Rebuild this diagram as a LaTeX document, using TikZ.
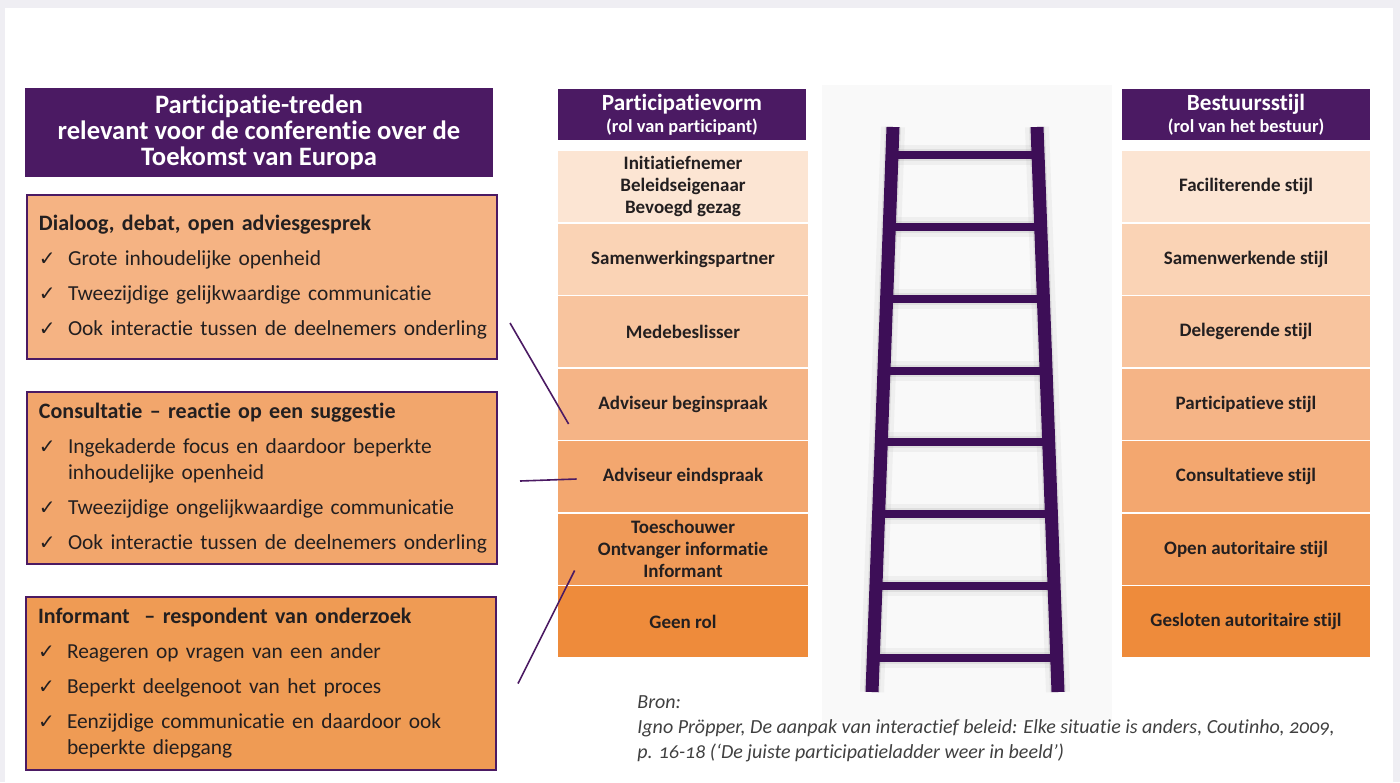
\documentclass[tikz,border=0pt]{standalone}
\usepackage{fontspec}
\setmainfont{Carlito}[Ligatures=NoCommon]
\newfontfamily\symfont{DejaVu Sans}
\usetikzlibrary{calc}

\definecolor{paars}{HTML}{4B1A63}
\definecolor{ladderpaars}{HTML}{3D0E57}
\definecolor{rand}{HTML}{EFEEF3}
\definecolor{inkt}{HTML}{231F20}
\definecolor{blok1}{HTML}{F5B383}
\definecolor{blok2}{HTML}{F2A66C}
\definecolor{blok3}{HTML}{EF9B54}
\definecolor{trede1}{HTML}{FCE5D3}
\definecolor{trede2}{HTML}{FAD3B5}
\definecolor{trede3}{HTML}{F8C49E}
\definecolor{trede4}{HTML}{F5B486}
\definecolor{trede5}{HTML}{F3A76F}
\definecolor{trede6}{HTML}{F09A58}
\definecolor{trede7}{HTML}{EE8B3B}

\newcommand\bloktekst{\fontsize{11}{13}\selectfont}

\tikzstyle{kop}=[fill=paars, text=white, font=\bfseries, align=center, inner sep=0pt]
\tikzstyle{blok}=[draw=paars, line width=1pt, text=inkt, anchor=north west, align=left,
  text width=223pt, inner xsep=6pt, inner ysep=0pt, font=\bloktekst]
\tikzstyle{trede}=[text=inkt, font=\bfseries\fontsize{9.5}{11}\selectfont, align=center,
  minimum height=35.5pt, inner sep=0pt]
\tikzstyle{lijn}=[draw=paars, line width=0.8pt]

% checked item and its continuation line
\newcommand\vink[1]{\par\vspace{4.5pt}\noindent
  \makebox[14.5pt][l]{\symfont\fontsize{10}{10}\selectfont ✓}%
  \mbox{\fontsize{10.7}{13}\selectfont #1}\par}
\newcommand\vinkverder[1]{\par\noindent\hspace*{14.5pt}\mbox{\fontsize{10.7}{13}\selectfont #1}\par}

\begin{document}
\begin{tikzpicture}[x=0.5pt, y=-0.5pt]
\useasboundingbox (0,0) rectangle (1400,782);
% Page
    \fill[rand] (0,0) rectangle (1400,782);
    \fill[white] (5,8) rectangle (1393,782);

% Left column
    \node[kop, minimum width=234pt, minimum height=44.5pt,
      font=\bfseries\fontsize{13.3}{13}\selectfont] (titel) at (259,132.5)
      {Participatie-treden\\relevant voor de conferentie over de\\Toekomst van Europa};
    \node[blok, fill=blok1, minimum height=82pt] (dialoog) at (26,194) {%
      \textbf{Dialoog, debat, open adviesgesprek}
      \vink{Grote inhoudelijke openheid}
      \vink{Tweezijdige gelijkwaardige communicatie}
      \vink{Ook interactie tussen de deelnemers onderling}};
    \node[blok, fill=blok2, minimum height=86pt] (consultatie) at (26,391) {%
      \textbf{Consultatie -- reactie op een suggestie}
      \vink{Ingekaderde focus en daardoor beperkte}
      \vinkverder{inhoudelijke openheid}
      \vink{Tweezijdige ongelijkwaardige communicatie}
      \vink{Ook interactie tussen de deelnemers onderling}};
    \node[blok, fill=blok3, minimum height=86.5pt] (informant) at (25,596) {%
      \textbf{Informant\ \ -- respondent van onderzoek}
      \vink{Reageren op vragen van een ander}
      \vink{Beperkt deelgenoot van het proces}
      \vink{Eenzijdige communicatie en daardoor ook}
      \vinkverder{beperkte diepgang}};

% Headers
    \node[kop, minimum width=124pt, minimum height=25.5pt] (kopvorm) at (682,114.5)
      {{\fontsize{11.6}{12}\selectfont Participatievorm}\\[-1pt]{\fontsize{9.2}{10}\selectfont (rol van participant)}};
    \node[kop, minimum width=124pt, minimum height=25.5pt] (kopstijl) at (1246,114.5)
      {{\fontsize{11.6}{12}\selectfont Bestuursstijl}\\[-1pt]{\fontsize{9.2}{10}\selectfont (rol van het bestuur)}};

% Steps
    \foreach \i/\vorm/\stijl in {
      1/{Initiatiefnemer\\Beleidseigenaar\\Bevoegd gezag}/Faciliterende stijl,
      2/Samenwerkingspartner/Samenwerkende stijl,
      3/Medebeslisser/Delegerende stijl,
      4/Adviseur beginspraak/Participatieve stijl,
      5/Adviseur eindspraak/Consultatieve stijl,
      6/{Toeschouwer\\Ontvanger informatie\\Informant}/Open autoritaire stijl,
      7/Geen rol/Gesloten autoritaire stijl} {
      \node[trede, fill=trede\i, minimum width=125pt] (vorm\i) at (683,{186.5+72.5*(\i-1)}) {\vorm};
      \node[trede, fill=trede\i, minimum width=124pt] (stijl\i) at (1246,{186.5+72.5*(\i-1)}) {\stijl};
    }

% Connectors
    \draw[lijn] ([xshift=6pt,yshift=-23pt]dialoog.east) -- ([xshift=5.5pt,yshift=-10pt]vorm4.west);
    \draw[lijn] ([xshift=11pt,yshift=-1.5pt]consultatie.east) -- ([xshift=9.5pt,yshift=-1.25pt]vorm5.west);
    \draw[lijn] ([xshift=10.5pt]informant.east) -- ([xshift=8.5pt,yshift=-10.75pt]vorm6.west);

% Ladder
    \fill[black!2.5] (822,85) rectangle (1112,722);
    \coordinate (lt) at (893,127);
    \coordinate (lb) at (872,692);
    \coordinate (rt) at (1037,127);
    \coordinate (rb) at (1058,692);
    \foreach \s/\o in {12/0.08, 8/0.14} {
      \begin{scope}[shift={(6,13)}, black!50, opacity=\o]
        \draw[line width=\s pt] (lt) -- (lb);
        \draw[line width=\s pt] (rt) -- (rb);
        \foreach \k in {0,...,7}
          \draw[line width=\s pt-2pt] ($(lt)!0.05+0.127*\k!(lb)$) -- ($(rt)!0.05+0.127*\k!(rb)$);
      \end{scope}
    }
    \foreach \k in {0,...,7}
      \draw[ladderpaars, line width=4pt] ($(lt)!0.05+0.127*\k!(lb)$) -- ($(rt)!0.05+0.127*\k!(rb)$);
    \draw[ladderpaars, line width=6.5pt] (lt) -- (lb);
    \draw[ladderpaars, line width=6.5pt] (rt) -- (rb);

% Source
    \node[anchor=north west, align=left, inner sep=0pt, text=black!75,
      font=\itshape\fontsize{10}{12.5}\selectfont\addfontfeatures{Numbers=OldStyle}] (bron) at (637,695)
      {Bron:\\Igno Pröpper, De aanpak van interactief beleid: Elke situatie is anders, Coutinho, 2009,\\p. 16-18 (`De juiste participatieladder weer in beeld')};
\end{tikzpicture}
\end{document}
